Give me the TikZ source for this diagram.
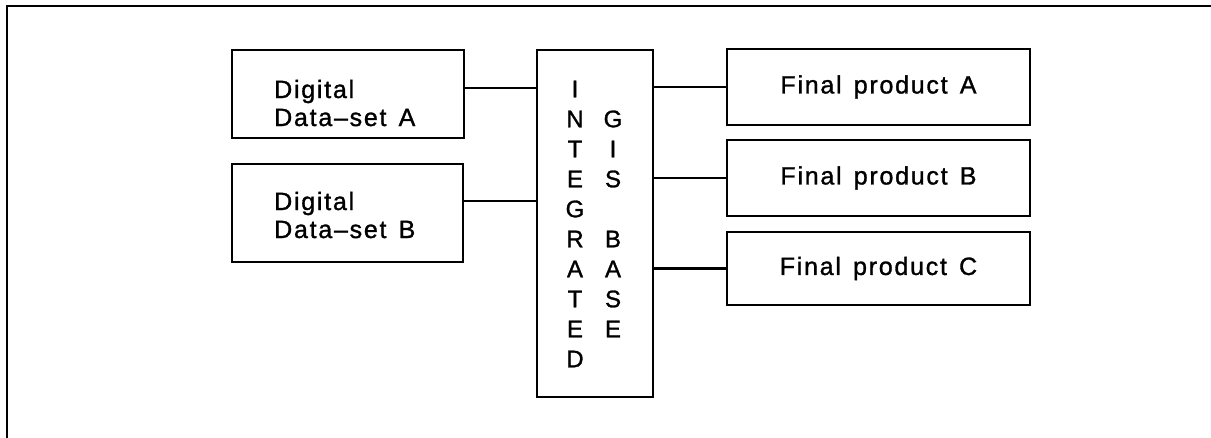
\documentclass[tikz,border=0pt]{standalone}
\usepackage{fontspec}
\setmainfont{Liberation Sans}[LetterSpace=7,WordSpace=1.4,FakeBold=1.2]
\begin{document}
\begin{tikzpicture}[x=1pt,y=-1pt,
  box/.style={draw, line width=2.2pt, rectangle, inner sep=0pt},
  txt/.style={inner sep=0pt, font=\fontsize{25}{28}\selectfont},
  ltr/.style={inner sep=0pt, font=\fontsize{24}{28}\selectfont},
  wire/.style={line width=2.2pt}]
\useasboundingbox (0,0) rectangle (1211,437);
% frame
\coordinate (fbl) at (7,440);
\coordinate (ftl) at (7,6);
\coordinate (ftr) at (1214,6);
\draw[line width=2.5pt] (fbl) -- (ftl) -- (ftr);
% input boxes
\node[box, minimum width=232pt, minimum height=88pt] (dA) at (348,94) {};
\node[box, minimum width=231pt, minimum height=98pt] (dB) at (347.5,213) {};
\node[txt, anchor=base west] (dA1) at (274,98) {Digital};
\node[txt, anchor=base west] (dA2) at (274,126) {Data--set A};
\node[txt, anchor=base west] (dB1) at (274,210) {Digital};
\node[txt, anchor=base west] (dB2) at (274,238) {Data--set B};
% integrated box
\node[box, minimum width=116pt, minimum height=347pt] (gis) at (595,223.5) {};
\foreach \l [count=\i from 0] in {I,N,T,E,G,R,A,T,E,D}
  \node[ltr] (c1-\i) at (575,89+30*\i) {\l};
\foreach \l/\i in {G/1,I/2,S/3,B/5,A/6,S/7,E/8}
  \node[ltr] (c2-\i) at (613,89+30*\i) {\l};
% output boxes
\node[box, txt, minimum width=303pt, minimum height=76pt] (fA) at (878.5,87) {Final product A};
\node[box, txt, minimum width=303pt, minimum height=76pt] (fB) at (878.5,178) {Final product B};
\node[box, txt, minimum width=303pt, minimum height=73pt] (fC) at (878.5,268.5) {Final product C};
% connectors
\draw[wire] ([yshift=6pt]dA.east) -- ([yshift=6pt]dA.east -| gis.west);
\draw[wire] ([yshift=12pt]dB.east) -- ([yshift=12pt]dB.east -| gis.west);
\draw[wire] (fA.west -| gis.east) -- (fA.west);
\draw[wire] (fB.west -| gis.east) -- (fB.west);
\draw[wire] (fC.west -| gis.east) -- (fC.west);
\end{tikzpicture}
\end{document}
